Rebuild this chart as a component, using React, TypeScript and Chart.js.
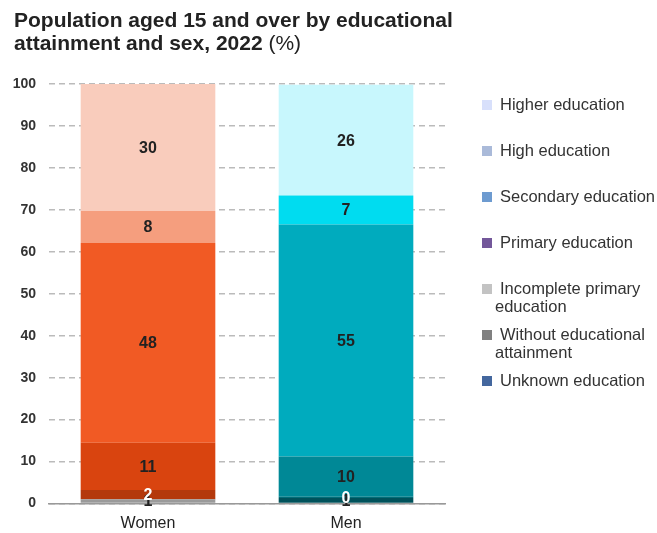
import React, { useEffect, useRef } from "react";
import { Chart, registerables } from "chart.js";

Chart.register(...registerables);

const FONT = '"Liberation Sans", Arial, sans-serif';

const categories = ["Women", "Men"];

// stacked bottom-up
const seriesNames = [
  "Unknown education",
  "Without educational attainment",
  "Incomplete primary education",
  "Primary education",
  "Secondary education",
  "High education",
  "Higher education",
];
const unknownEdu: (number | null)[] = [null, null];
const withoutEdu = [1.0, 1.3];
const incompletePrimary = [2.2, 0.3];
const primaryEdu = [11.3, 9.6];
const secondaryEdu = [47.6, 55.3];
const highEdu = [7.6, 6.9];
const higherEdu = [30.3, 26.4];

const yMin = 0;
const yMax = 100;
const yStep = 10;

// legend (top to bottom), with wrapped lines
const legendLines = [
  ["Higher education"],
  ["High education"],
  ["Secondary education"],
  ["Primary education"],
  ["Incomplete primary", "education"],
  ["Without educational", "attainment"],
  ["Unknown education"],
];

const womenColors = ["#3d5f99", "#9a9a9a", "#b4390c", "#d9440f", "#f15a24", "#f59e7e", "#f9ccbc"];
const menColors = ["#3d5f99", "#00525b", "#006d78", "#008896", "#00abbe", "#00dcf0", "#c8f7fd"];
const legendColors = ["#d8e0fb", "#aabad9", "#6d9bd0", "#73579a", "#c3c3c3", "#808080", "#44679e"];
const labelColors = ["#222", "#222", "#ffffff", "#222", "#222", "#222", "#222"];

const seriesValues = [unknownEdu, withoutEdu, incompletePrimary, primaryEdu, secondaryEdu, highEdu, higherEdu];

const segLabels = {
  id: "segLabels",
  afterDatasetsDraw(chart: any) {
    const ctx = chart.ctx;
    ctx.save();
    ctx.font = `bold 16px ${FONT}`;
    ctx.textAlign = "center";
    ctx.textBaseline = "middle";
    chart.data.datasets.forEach((ds: any, di: number) => {
      const meta = chart.getDatasetMeta(di);
      meta.data.forEach((el: any, i: number) => {
        const v = ds.data[i];
        if (v == null) return;
        const p = el.getProps(["x", "y", "base"], true);
        ctx.fillStyle = labelColors[di];
        ctx.fillText(String(Math.round(v)), p.x, (p.y + p.base) / 2 + 1);
      });
    });
    ctx.restore();
  },
};

const customLegend = {
  id: "customLegend",
  afterDraw(chart: any) {
    const ctx = chart.ctx;
    ctx.save();
    ctx.font = `16.5px ${FONT}`;
    ctx.textBaseline = "middle";
    ctx.textAlign = "left";
    legendLines.forEach((lines, i) => {
      const cy = 105 + 46 * i;
      ctx.fillStyle = legendColors[i];
      ctx.fillRect(482, cy - 5, 10, 10);
      ctx.fillStyle = "#333";
      lines.forEach((t, j) => {
        ctx.fillText(t, j === 0 ? 500 : 495, cy + 18 * j);
      });
    });
    ctx.restore();
  },
};

export default function App() {
  const ref = useRef<HTMLCanvasElement>(null);
  useEffect(() => {
    const datasets = seriesNames.map((name, i) => ({
      label: name,
      data: seriesValues[i],
      backgroundColor: [womenColors[i], menColors[i]],
      borderWidth: 0,
      barPercentage: 0.68,
      categoryPercentage: 1,
    }));
    const chart = new Chart(ref.current as HTMLCanvasElement, {
      type: "bar",
      data: { labels: categories, datasets },
      options: {
        responsive: false,
        animation: false,
        devicePixelRatio: 1,
        layout: { padding: { left: 0, right: 212, top: 84, bottom: 0 } },
        plugins: {
          legend: { display: false },
          tooltip: { enabled: false },
          title: { display: false },
        },
        scales: {
          x: {
            stacked: true,
            grid: { display: false, drawTicks: false },
            border: { display: true, color: "#999", width: 1.5 },
            ticks: { font: { family: FONT, size: 16 }, color: "#222", padding: 10 },
            afterFit: (s: any) => {
              s.height = 29.5;
            },
          },
          y: {
            stacked: true,
            min: yMin,
            max: yMax,
            ticks: {
              stepSize: yStep,
              font: { family: FONT, size: 14, weight: "bold" },
              color: "#333",
              padding: 13,
            },
            grid: { color: "#bbb", lineWidth: 1.5, drawTicks: false },
            border: { display: false, dash: [6, 4] },
            afterFit: (s: any) => {
              s.width = 49;
            },
          },
        },
      },
      plugins: [segLabels, customLegend],
    } as any);
    return () => chart.destroy();
  }, []);

  return (
    <div style={{ position: "absolute", left: 0, top: 0, width: 657, height: 533, background: "#fff" }}>
      <canvas
        ref={ref}
        width={657}
        height={533}
        style={{ position: "absolute", left: 0, top: 0, width: 657, height: 533 }}
      />
      <div
        style={{
          position: "absolute",
          left: 14,
          top: 8,
          font: `bold 21px/23px ${FONT}`,
          color: "#222",
          whiteSpace: "nowrap",
        }}
      >
        Population aged 15 and over by educational
        <br />
        attainment and sex, 2022 <span style={{ fontWeight: "normal" }}>(%)</span>
      </div>
    </div>
  );
}
